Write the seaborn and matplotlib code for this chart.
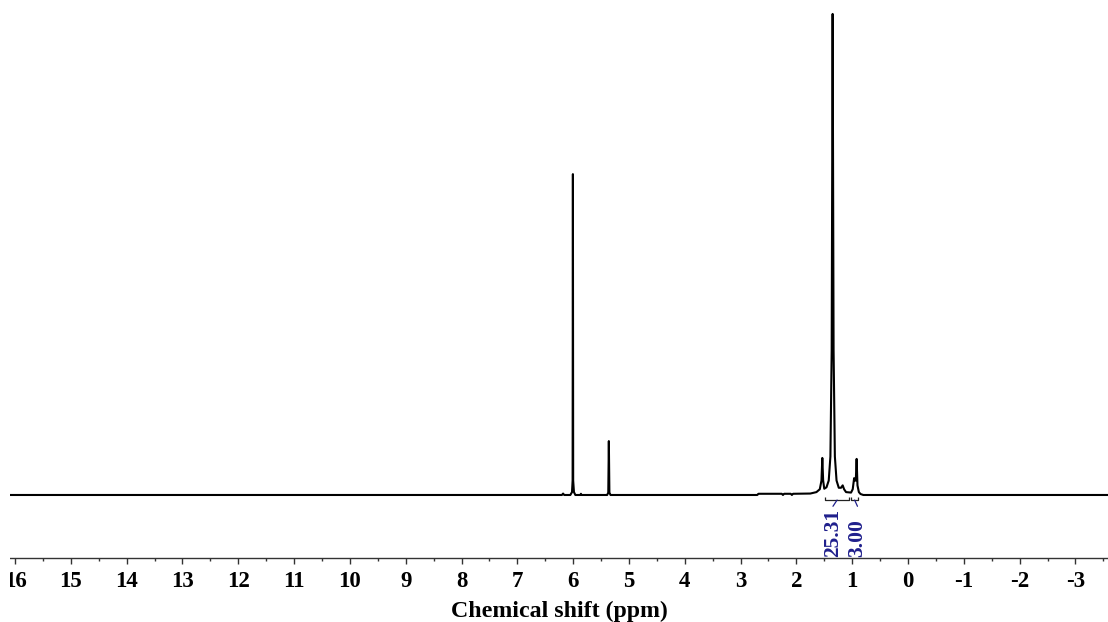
import matplotlib
matplotlib.use("Agg")
import matplotlib.pyplot as plt
from matplotlib.patches import Rectangle
from matplotlib.ticker import MultipleLocator, FixedLocator
import seaborn as sns

# 1H NMR trace: chemical shift (ppm) and relative intensity (tallest peak = 100)
shift_ppm = [16.09, 6.20, 6.18, 6.16, 6.05, 6.02, 6.009, 6.004, 5.999, 5.985, 5.96,
             5.87, 5.86, 5.85, 5.39, 5.37, 5.36, 5.35, 5.33,
             2.70, 2.68, 2.26, 2.24, 2.22, 2.10, 2.08, 2.06, 1.75, 1.64, 1.58,
             1.55, 1.535, 1.52, 1.50, 1.46, 1.42, 1.39, 1.367, 1.35, 1.333, 1.31,
             1.28, 1.24, 1.20, 1.17, 1.145, 1.11, 1.02, 0.99, 0.965, 0.95,
             0.935, 0.92, 0.905, 0.88, 0.85, 0.80, -3.584]
intensity = [0.0, 0.0, 0.3, 0.0, 0.0, 0.6, 3.0, 66.7, 3.0, 0.6, 0.0,
             0.0, 0.25, 0.0, 0.0, 0.5, 11.2, 0.5, 0.0,
             0.0, 0.25, 0.25, 0.0, 0.25, 0.25, 0.0, 0.25, 0.3, 0.6, 1.2,
             3.0, 7.7, 3.0, 1.3, 1.6, 3.0, 8.0, 30.0, 100.0, 30.0, 8.0,
             3.0, 1.5, 1.5, 2.0, 1.2, 0.6, 0.5, 1.2, 3.5, 3.0,
             3.0, 7.5, 2.0, 0.6, 0.2, 0.0, 0.0]

# integration regions (ppm from, ppm to) and their integral values
integral_from = [1.49, 1.016]
integral_to = [1.05, 0.896]
integral_values = ["25.31", "3.00"]
integral_label_ppm = [1.344, 0.905]

tick_positions = list(range(16, -4, -1))
tick_labels = [str(t) for t in tick_positions]

sns.set_theme(style="white")
plt.rcParams["axes.unicode_minus"] = False
plt.rcParams["font.family"] = ["Liberation Serif", "DejaVu Serif"]
plt.rcParams["text.color"] = "black"
plt.rcParams["xtick.labelcolor"] = "black"
plt.rcParams["axes.labelcolor"] = "black"

W, H = 1108, 622
fig = plt.figure(figsize=(W / 100, H / 100), dpi=100)
ax = fig.add_axes([10 / W, (H - 558) / H, (W - 10) / W, 558 / H])

sns.lineplot(x=shift_ppm, y=intensity, sort=False, estimator=None,
             color="black", linewidth=1.5, ax=ax)

ax.set_xlim(16.09, -3.584)
ax.set_ylim(-13.1, 102.9)

# integration brackets and their values
int_color = "#1f1f8c"
y_br = -1.05
for x0, x1, val, xl in zip(integral_from, integral_to, integral_values, integral_label_ppm):
    ax.plot([x0, x0, x1, x1], [y_br + 0.6, y_br, y_br, y_br + 0.6],
            color="#222222", linewidth=0.9, solid_capstyle="butt")
    mid = (x0 + x1) / 2
    ax.plot([mid, xl], [y_br, y_br - 1.3], color=int_color, linewidth=0.9)
    ax.text(xl, -12.95, val, rotation=90, ha="center", va="bottom",
            color=int_color, fontsize=15.5, fontweight="bold")

for side in ("left", "right", "top"):
    ax.spines[side].set_visible(False)
ax.spines["bottom"].set_color("#333333")
ax.spines["bottom"].set_linewidth(1.0)

ax.xaxis.set_major_locator(FixedLocator(tick_positions))
ax.set_xticklabels(tick_labels)
ax.xaxis.set_minor_locator(MultipleLocator(0.5))
ax.tick_params(axis="x", which="major", direction="out", length=4.5, width=1.0,
               color="#333333", pad=5.0, labelsize=16.5, labelcolor="black",
               bottom=True)
ax.tick_params(axis="x", which="minor", direction="out", length=2.5, width=1.0,
               color="#333333", bottom=True)
for lab in ax.get_xticklabels():
    lab.set_fontweight("bold")
ax.set_yticks([])
ax.set_ylabel("")
ax.set_xlabel("Chemical shift (ppm)", fontsize=17.2, fontweight="bold",
              labelpad=6.5, color="black")

# white margin at the far left edge
fig.add_artist(Rectangle((0, 0), 10 / W, 1, transform=fig.transFigure,
                         facecolor="white", edgecolor="none", zorder=10))

fig.savefig("out.png", dpi=100)
